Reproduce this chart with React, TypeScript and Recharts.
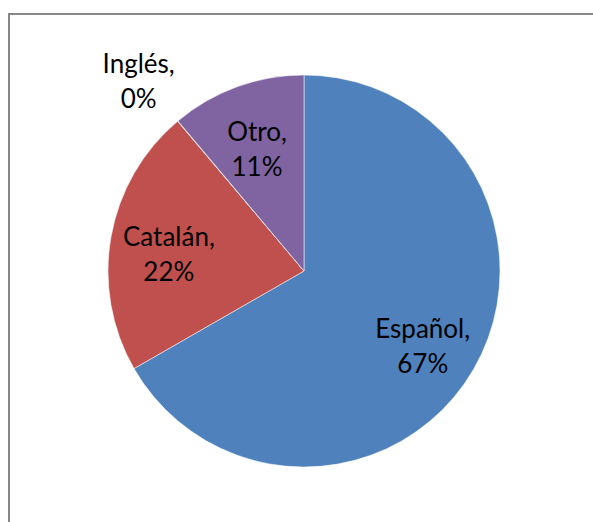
import React from 'react'
import {PieChart, Pie, Cell} from 'recharts'

const languages = ['Español', 'Catalán', 'Inglés', 'Otro']
const shares = [66.6, 22.1, 0.04, 11.1]
const colors = ['#4F81BD', '#C0504D', '#9BBB59', '#8064A2']

const data = languages.map((name, i) => ({name, value: shares[i]}))
const total = shares.reduce((a, b) => a + b, 0)

const RAD = Math.PI / 180

const renderLabel = ({cx, cy, midAngle, outerRadius, index}: any) => {
  const v = shares[index]
  const ratio = v < 1 ? 1.31 : 0.7
  const r = outerRadius * ratio
  const x = cx + r * Math.cos(-midAngle * RAD)
  const y = cy + r * Math.sin(-midAngle * RAD) + 6
  const pct = Math.round((v / total) * 100)
  return (
    <text
      key={index}
      x={x}
      y={y}
      textAnchor="middle"
      fill="#000"
      fontSize={26}
      fontFamily="Lato, 'Open Sans', sans-serif"
    >
      <tspan x={x} y={y - 17.5} dominantBaseline="central">
        {languages[index]},
      </tspan>
      <tspan x={x} y={y + 17.5} dominantBaseline="central">
        {pct}%
      </tspan>
    </text>
  )
}

export default function App() {
  return (
    <div style={{position: 'absolute', left: 0, top: 0, width: 593, height: 522, overflow: 'hidden', background: '#fff'}}>
      {/* marco del gráfico */}
      <div
        style={{
          position: 'absolute',
          left: 8,
          top: 13,
          width: 583,
          height: 507,
          borderLeft: '2px solid #878787',
          borderTop: '2px solid #878787',
        }}
      />
      <div style={{position: 'absolute', left: 0, top: 0}}>
        <PieChart width={593} height={522} margin={{top: 0, right: 0, bottom: 0, left: 0}}>
          <Pie
            data={data}
            dataKey="value"
            nameKey="name"
            cx={304}
            cy={271}
            outerRadius={196}
            startAngle={90}
            endAngle={-270}
            stroke="#ffffff"
            strokeWidth={0.5}
            label={renderLabel}
            labelLine={false}
            isAnimationActive={false}
          >
            {data.map((d, i) => (
              <Cell key={d.name} fill={colors[i]} />
            ))}
          </Pie>
        </PieChart>
      </div>
    </div>
  )
}
